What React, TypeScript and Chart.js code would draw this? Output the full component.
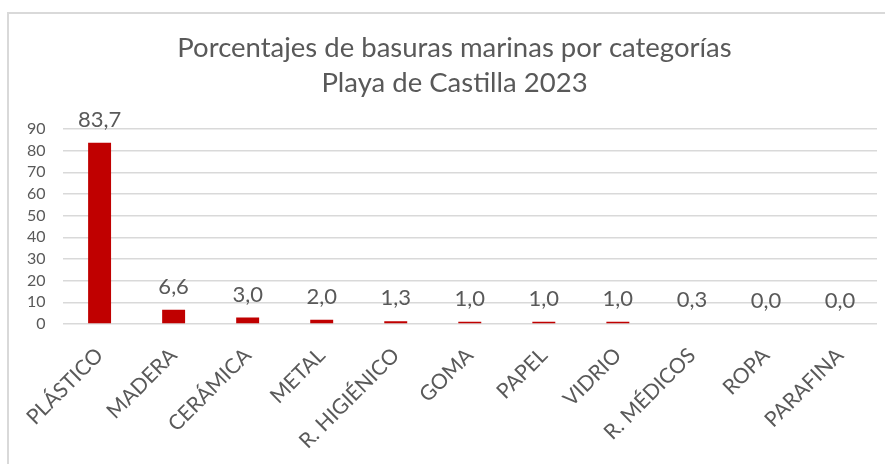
import React, { useEffect, useRef } from "react";
import { Chart, registerables } from "chart.js";

Chart.register(...registerables);

const categories = [
  "PLÁSTICO",
  "MADERA",
  "CERÁMICA",
  "METAL",
  "R. HIGIÉNICO",
  "GOMA",
  "PAPEL",
  "VIDRIO",
  "R. MÉDICOS",
  "ROPA",
  "PARAFINA",
];
const percentages = [83.7, 6.6, 3.0, 2.0, 1.3, 1.0, 1.0, 1.0, 0.3, 0.0, 0.0];
const titleLines = ["Porcentajes de basuras marinas por categorías", "Playa de Castilla 2023"];

const FONT = "Lato, 'Open Sans', sans-serif";
const TEXT = "#595959";
const GRID = "#d9d9d9";
const BAR = "#c00000";

const dataLabels = {
  id: "dataLabels",
  afterDatasetsDraw(chart: any) {
    const ctx = chart.ctx;
    const meta = chart.getDatasetMeta(0);
    ctx.save();
    ctx.font = `22px ${FONT}`;
    ctx.fillStyle = TEXT;
    ctx.textAlign = "center";
    ctx.textBaseline = "alphabetic";
    meta.data.forEach((bar: any, i: number) => {
      const v = chart.data.datasets[0].data[i] as number;
      ctx.fillText(v.toFixed(1).replace(".", ","), bar.x, bar.y - 16);
    });
    ctx.restore();
  },
};

const centeredTitle = {
  id: "centeredTitle",
  afterDraw(chart: any) {
    const ctx = chart.ctx;
    ctx.save();
    ctx.font = `27.5px ${FONT}`;
    ctx.fillStyle = TEXT;
    ctx.textAlign = "center";
    ctx.textBaseline = "middle";
    const cx = chart.width / 2;
    titleLines.forEach((line, i) => {
      ctx.fillText(line, cx, 34.5 + i * 35);
    });
    ctx.restore();
  },
};

export default function App() {
  const ref = useRef<HTMLCanvasElement | null>(null);
  useEffect(() => {
    if (!ref.current) return;
    const chart = new Chart(ref.current, {
      type: "bar",
      data: {
        labels: categories,
        datasets: [
          {
            data: percentages,
            backgroundColor: BAR,
            barPercentage: 0.62,
            categoryPercentage: 0.5,
          },
        ],
      },
      options: {
        animation: false,
        responsive: false,
        devicePixelRatio: 1,
        layout: { padding: { left: 0, right: 23, top: 115, bottom: 0 } },
        plugins: {
          legend: { display: false },
          tooltip: { enabled: false },
          title: { display: false },
        },
        scales: {
          x: {
            grid: { display: false, drawTicks: false },
            border: { display: false },
            ticks: {
              color: TEXT,
              font: { family: FONT, size: 21 },
              maxRotation: 45,
              minRotation: 45,
              padding: 19,
              autoSkip: false,
            },
            afterFit(scale: any) {
              scale.height = 140;
            },
          },
          y: {
            min: 0,
            max: 90,
            grid: { color: GRID, lineWidth: 1.5, drawTicks: false },
            border: { display: false },
            ticks: {
              stepSize: 10,
              autoSkip: false,
              color: TEXT,
              font: { family: FONT, size: 16 },
              padding: 17,
            },
            afterFit(scale: any) {
              scale.width = 53;
            },
          },
        },
      },
      plugins: [dataLabels, centeredTitle],
    });
    return () => chart.destroy();
  }, []);

  return (
    <div
      style={{
        position: "fixed",
        left: 0,
        top: 0,
        width: 885,
        height: 464,
        overflow: "hidden",
        background: "#fff",
      }}
    >
      <div
        style={{
          position: "absolute",
          left: 7,
          top: 12,
          width: 950,
          height: 500,
          borderTop: `2px solid ${GRID}`,
          borderLeft: `2px solid ${GRID}`,
          background: "#fff",
        }}
      >
        <canvas ref={ref} width={891} height={450} style={{ display: "block", width: 891, height: 450 }} />
      </div>
    </div>
  );
}
